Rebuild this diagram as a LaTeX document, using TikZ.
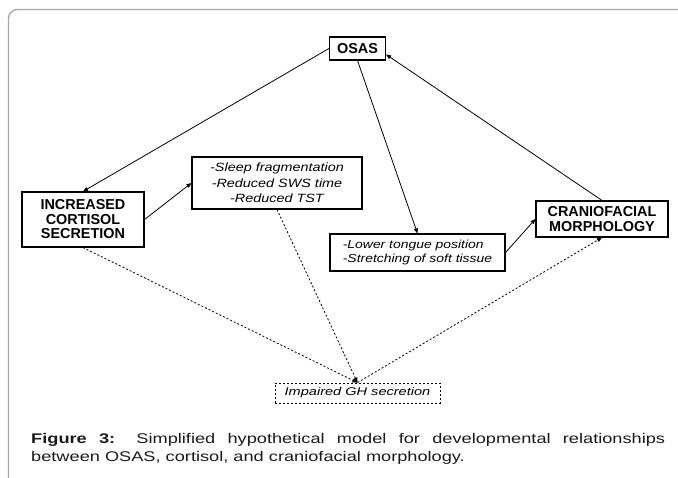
\documentclass[tikz,border=0pt]{standalone}
\usepackage{fontspec}
\setmainfont{Liberation Sans}
\newfontfamily\itfam[FakeStretch=1.2]{Liberation Sans}
\newfontfamily\ghfam[FakeStretch=1.3]{Liberation Sans}
\newfontfamily\capfam[FakeStretch=1.3]{Liberation Sans}
\usetikzlibrary{arrows.meta}
\definecolor{captext}{HTML}{1A1A1A}
\begin{document}
\begin{tikzpicture}[x=1pt,y=-1pt,
 box/.style={draw, line width=1.1pt, inner sep=0pt, align=center},
 capbox/.style={box, font=\fontsize{14.4}{14.5}\selectfont\bfseries},
 itbox/.style={box, font=\itfam\itshape\fontsize{12}{15.3}\selectfont},
 arr/.style={line width=0.8pt, -{Triangle[length=5pt,width=4pt]}},
 dsh/.style={line width=0.8pt, dash pattern=on 2pt off 2pt},
]
\useasboundingbox (0,0) rectangle (678,478);
\clip (0,0) rectangle (678,478);
\fill[white] (0,0) rectangle (678,478);
\draw[black!35, line width=1.3pt, rounded corners=9pt] (8.5,500) -- (8.5,9.5) -- (700,9.5);

\node[capbox, minimum width=56pt, minimum height=23pt] (osas) at (357.5,48.5) {OSAS};
\node[capbox, minimum width=122pt, minimum height=55pt] (inc) at (83,219.5) {INCREASED\\CORTISOL\\SECRETION};
\node[itbox, minimum width=170pt, minimum height=52pt] (sleep) at (277,183) {-Sleep fragmentation\\-Reduced SWS time\\-Reduced TST};
\node[itbox, minimum width=175pt, minimum height=37pt, font=\itfam\itshape\fontsize{11.6}{14}\selectfont, align=left] (tongue) at (417.5,252.5) {-Lower tongue position\\-Stretching of soft tissue};
\node[capbox, minimum width=132pt, minimum height=36pt] (cranio) at (602,219) {CRANIOFACIAL\\MORPHOLOGY};
\node[box, dsh, font=\ghfam\itshape\fontsize{11.2}{12}\selectfont, minimum width=165pt, minimum height=20pt] (gh) at (357.5,393) {Impaired GH secretion};

\draw[arr] (osas.west) -- (inc.north);
\draw[arr] (inc.east) -- (sleep.west);
\draw[arr] (osas.south) -- (tongue.north);
\draw[arr] (tongue.east) -- (cranio.west);
\draw[arr] (cranio.north) -- ([yshift=-6pt]osas.east);
\draw[dsh, -{Triangle[length=5pt,width=4pt]}] (inc.south) -- (gh.north);
\draw[dsh, -{Triangle[length=5pt,width=4pt]}] (sleep.south) -- (gh.north);
\draw[dsh, -{Triangle[length=5pt,width=4pt]}] (gh.north) -- (cranio.south);

\node[anchor=base west, inner sep=0pt, text width=634pt, align=justify, text=captext, font=\capfam\fontsize{14}{17.5}\selectfont] (cap) at (31,444) {\textbf{Figure 3:} Simplified hypothetical model for developmental relationships\linebreak between OSAS, cortisol, and craniofacial morphology.};
\end{tikzpicture}
\end{document}
